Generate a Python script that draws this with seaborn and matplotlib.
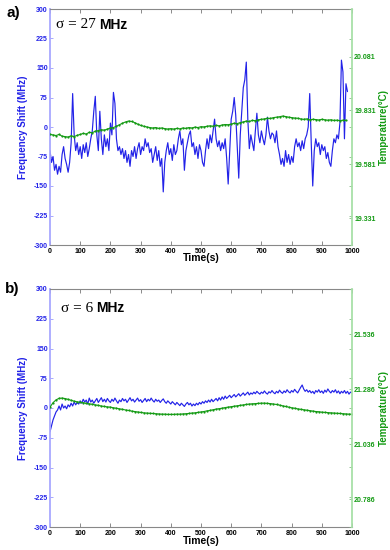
import numpy as np
import pandas as pd
import matplotlib
matplotlib.use('Agg')
import matplotlib.pyplot as plt
import seaborn as sns

# ---------------- data ----------------
time_a = list(range(0, 990, 5))
freq_a = [
    -60, -90, -75, -110, -95, -120, -100, -115, -70, -50, -80, -95, -115, -90, -40, 85, -20, -60, -40, -70,
    -50, -80, -45, -65, -40, -75, -55, -30, -10, 40, 78, -20, -60, 40, -30, -70, -20, -50, -30, -60,
    10, -20, 88, 60, -30, -60, -50, -70, -55, -80, -60, -90, -70, -100, -60, -75, -50, -80, -55, -40,
    -70, -50, -60, -30, -50, -40, -65, -55, -90, -70, -50, -85, -60, -100, -80, -165, -90, -60, -40, -70,
    -55, -85, -45, -70, -60, -30, -10, -45, -30, -110, -60, -40, -20, -10, -50, -40, -70, -50, -80, -45,
    -60, -90, -100, -60, -30, -55, -20, -40, -10, 20, -30, -50, -35, -60, -40, -55, -30, -80, -145, -60,
    20, 40, 75, 30, -50, -130, -20, 40, 100, 120, 165, 20, -55, -20, -40, -60, -10, 35, -20, -40,
    -10, -30, -45, -20, 25, -10, -30, -15, -20, -40, -10, -50, -70, -95, -80, -100, -60, -90, -70, -95,
    -75, -90, -50, -30, -50, -40, -60, -35, -55, -30, -20, 0, 85, -40, -150, -60, -30, -50, -40, -70,
    -45, -60, -50, -80, -65, -90, -100, -60, -30, -40, -20, -30, 10, 170, 140, -30, 110, 90,
]
temp_time_a = list(range(0, 990, 10))
temp_a = [
    19.720, 19.718, 19.715, 19.720, 19.712, 19.710, 19.708, 19.714, 19.710, 19.716,
    19.720, 19.725, 19.722, 19.730, 19.728, 19.735, 19.738, 19.742, 19.740, 19.745,
    19.750, 19.752, 19.758, 19.765, 19.772, 19.778, 19.782, 19.780, 19.775, 19.768,
    19.762, 19.758, 19.755, 19.752, 19.750, 19.752, 19.748, 19.750, 19.747, 19.745,
    19.747, 19.745, 19.748, 19.746, 19.750, 19.748, 19.752, 19.750, 19.754, 19.752,
    19.756, 19.755, 19.758, 19.760, 19.758, 19.762, 19.760, 19.764, 19.766, 19.765,
    19.768, 19.772, 19.770, 19.775, 19.778, 19.782, 19.780, 19.785, 19.784, 19.788,
    19.790, 19.792, 19.795, 19.794, 19.798, 19.800, 19.802, 19.805, 19.803, 19.800,
    19.798, 19.796, 19.795, 19.792, 19.790, 19.792, 19.788, 19.790, 19.789, 19.787,
    19.790, 19.788, 19.786, 19.788, 19.785, 19.786, 19.784, 19.786, 19.785,
]

time_b = list(range(0, 1005, 5))
freq_b = [
    -60, -45, -30, -20, -10, -5, 5, -5, 10, 0, 5, -2, 8, 3, 12, 5, 15, 8, 14, 10,
    18, 12, 22, 15, 20, 10, 25, 15, 20, 12, 18, 24, 14, 20, 26, 16, 22, 15, 24, 18,
    14, 22, 17, 25, 18, 12, 20, 16, 24, 18, 22, 14, 20, 26, 18, 22, 15, 20, 25, 17,
    21, 14, 19, 24, 16, 22, 18, 25, 19, 15, 22, 17, 20, 14, 19, 23, 16, 12, 18, 14,
    10, 16, 12, 8, 14, 10, 6, 12, 8, 4, 10, 14, 8, 12, 5, 10, 6, 12, 8, 14,
    10, 16, 12, 18, 14, 20, 15, 22, 16, 20, 24, 18, 26, 20, 28, 22, 30, 24, 28, 32,
    26, 30, 34, 28, 32, 36, 30, 34, 38, 32, 36, 40, 33, 38, 35, 40, 36, 42, 38, 35,
    40, 37, 43, 38, 35, 41, 38, 44, 39, 36, 42, 38, 45, 40, 37, 43, 39, 46, 41, 38,
    44, 40, 47, 42, 38, 45, 52, 58, 48, 42, 46, 40, 44, 38, 42, 36, 44, 40, 46, 39,
    43, 37, 45, 40, 48, 42, 38, 44, 40, 46, 38, 43, 36, 42, 38, 44, 37, 42, 35, 40,
    38,
]
temp_time_b = list(range(0, 1010, 10))
temp_b = [
    21.205, 21.225, 21.238, 21.245, 21.246, 21.244, 21.240, 21.236, 21.232, 21.229,
    21.227, 21.225, 21.222, 21.220, 21.218, 21.215, 21.213, 21.210, 21.208, 21.206,
    21.205, 21.202, 21.200, 21.197, 21.195, 21.192, 21.190, 21.187, 21.185, 21.183,
    21.181, 21.179, 21.178, 21.177, 21.176, 21.175, 21.174, 21.173, 21.173, 21.172,
    21.172, 21.172, 21.173, 21.173, 21.174, 21.175, 21.176, 21.178, 21.179, 21.181,
    21.183, 21.185, 21.188, 21.190, 21.193, 21.196, 21.198, 21.200, 21.203, 21.205,
    21.207, 21.209, 21.211, 21.213, 21.215, 21.217, 21.219, 21.220, 21.221, 21.222,
    21.223, 21.223, 21.222, 21.221, 21.219, 21.217, 21.214, 21.211, 21.208, 21.205,
    21.202, 21.200, 21.197, 21.195, 21.193, 21.191, 21.189, 21.187, 21.185, 21.184,
    21.182, 21.181, 21.180, 21.179, 21.178, 21.177, 21.176, 21.175, 21.174, 21.173,
    21.173,
]

freq_ticks = [-300, -225, -150, -75, 0, 75, 150, 225, 300]
time_ticks = [0, 100, 200, 300, 400, 500, 600, 700, 800, 900, 1000]
temp_ticks_a = [19.331, 19.581, 19.831, 20.081]
temp_ticks_b = [20.786, 21.036, 21.286, 21.536]
temp_lim_a = (19.208, 20.301)
temp_lim_b = (20.660, 21.742)
sigma_vals = ["27", "6"]
panel_labels = ["a)", "b)"]

# ---------------- style ----------------
sns.set_style('white')
plt.rcParams['font.family'] = ['Liberation Sans', 'DejaVu Sans']
plt.rcParams['text.color'] = 'black'
plt.rcParams['xtick.color'] = 'black'
plt.rcParams['axes.labelcolor'] = 'black'
BLUE = '#2222e8'
GREEN = '#139a13'
TICKFS = 5.0

fig = plt.figure(figsize=(3.9, 5.5), dpi=100)
W, H = 390, 550


def box(l, t, r, b):
    return [l / W, 1 - b / H, (r - l) / W, (b - t) / H]


axes_boxes = [box(50, 9, 352, 245), box(50, 289, 352, 527)]
sigma_pos = [(56, 99, 25), (61, 96, 308)]
panel_pos = [(7, 13), (5, 289)]

datasets = [
    (time_a, freq_a, temp_time_a, temp_a, temp_ticks_a, temp_lim_a),
    (time_b, freq_b, temp_time_b, temp_b, temp_ticks_b, temp_lim_b),
]

for i, (tf, f, tt, T, tticks, tlim) in enumerate(datasets):
    ax = fig.add_axes(axes_boxes[i])
    dff = pd.DataFrame({'t': tf, 'f': f})
    sns.lineplot(data=dff, x='t', y='f', ax=ax, color=BLUE, linewidth=0.85, estimator=None)
    ax.set_xlim(0, 1000)
    ax.set_ylim(-300, 300)
    ax.set_xticks(time_ticks)
    ax.set_xticklabels([str(v) for v in time_ticks], fontsize=TICKFS, fontweight='bold', color='black')
    ax.set_yticks(freq_ticks)
    ax.set_yticklabels([str(v) for v in freq_ticks], fontsize=TICKFS, fontweight='bold', color=BLUE)
    ax.tick_params(axis='x', direction='in', top=True, bottom=True, length=3, width=0.6,
                   color='#777777', pad=2)
    ax.tick_params(axis='y', direction='in', left=True, length=2, width=0.6, color='#9999ff', pad=1.5)
    ax.set_xlabel('Time(s)', fontsize=7.5, fontweight='bold', color='black', va='center')
    ax.xaxis.set_label_coords(0.5, -0.057)
    ax.set_ylabel('Frequency Shift (MHz)', fontsize=7, fontweight='bold', color=BLUE)
    ax.yaxis.set_label_coords(-0.073, 0.5)
    for s in ['top', 'bottom']:
        ax.spines[s].set_color('#888888')
        ax.spines[s].set_linewidth(0.8)
    ax.spines['left'].set_color('#a8a8ff')
    ax.spines['left'].set_linewidth(1.3)
    ax.spines['right'].set_visible(False)

    ax2 = ax.twinx()
    dft = pd.DataFrame({'t': tt, 'T': T})
    sns.lineplot(data=dft, x='t', y='T', ax=ax2, color=GREEN, linewidth=0.8, marker='o',
                 markersize=1.6, markeredgewidth=0, estimator=None)
    ax2.set_ylim(*tlim)
    ax2.set_yticks(tticks)
    ax2.set_yticklabels([f'{v:.3f}' for v in tticks], fontsize=TICKFS, fontweight='bold', color=GREEN)
    lo, hi = tlim
    ax2.set_yticks([lo + (v + 300) / 600 * (hi - lo) for v in freq_ticks], minor=True)
    ax2.tick_params(axis='y', which='both', direction='in', right=True, length=2, width=0.6,
                    color='#88bb88', pad=1.5)
    ax2.set_ylabel('Temperature(°C)', fontsize=7, fontweight='bold', color=GREEN, rotation=90,
                   va='center')
    ax2.yaxis.set_label_coords(1.106, 0.5)
    ax2.spines['right'].set_color('#a8e0a8')
    ax2.spines['right'].set_linewidth(1.3)
    for s in ['left', 'top', 'bottom']:
        ax2.spines[s].set_visible(False)
    ax2.set_xlim(0, 1000)
    ax2.set_xlabel('')

    sx, mx, sy = sigma_pos[i]
    fig.text(sx / W, 1 - sy / H, f'σ = {sigma_vals[i]}', fontsize=11, color='black',
             family=['Liberation Serif', 'DejaVu Serif'], va='center', ha='left')
    fig.text(mx / W, 1 - sy / H, 'MHz', fontsize=10, fontweight='bold', color='black',
             va='center', ha='left')
    px, py = panel_pos[i]
    fig.text(px / W, 1 - py / H, panel_labels[i], fontsize=11, fontweight='bold', color='black',
             va='center', ha='left')

fig.savefig('out.png', dpi=100)
